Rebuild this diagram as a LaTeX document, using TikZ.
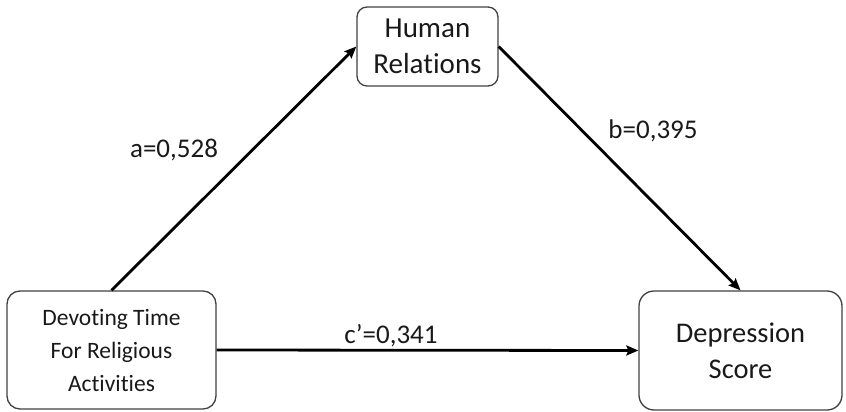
\documentclass[tikz,border=0pt]{standalone}
\usepackage{fontspec}
\setmainfont{Carlito}[Ligatures={NoCommon}]
\usetikzlibrary{arrows.meta}
\tikzset{
  box/.style={draw=black!75, line width=1.3pt, align=center, inner sep=0pt, text=black!90},
  arr/.style={line width=2.8pt, -{Stealth[length=12pt,width=10pt,inset=2pt]}},
  coef/.style={font=\fontsize{27}{32}\selectfont, text=black!90, inner sep=0pt}
}
\begin{document}
\begin{tikzpicture}[x=1pt,y=-1pt]
      \useasboundingbox (0,0) rectangle (846,412);
      \node[box, rounded corners=13pt, minimum width=209pt, minimum height=118pt,
            font=\fontsize{23.5}{33}\selectfont] (dev) at (111.5,350)
            {Devoting Time\\For Religious\\Activities};
      \node[box, rounded corners=10pt, minimum width=141pt, minimum height=79pt,
            font=\fontsize{29}{36}\selectfont] (hum) at (427.5,46.5) {Human\\Relations};
      \node[box, rounded corners=15pt, minimum width=203pt, minimum height=119pt,
            font=\fontsize{28.5}{36}\selectfont] (dep) at (740.5,350.5) {Depression\\Score};
      \draw[arr] (dev.north) -- (hum.west);
      \draw[arr] (hum.east) -- (dep.north);
      \draw[arr] (dev.east) -- (dep.west);
      \node[coef] (ca) at (174,150) {a=0,528};
      \node[coef] (cb) at (653,131) {b=0,395};
      \node[coef] (cc) at (391,336) {c’=0,341};
    \end{tikzpicture}
\end{document}
